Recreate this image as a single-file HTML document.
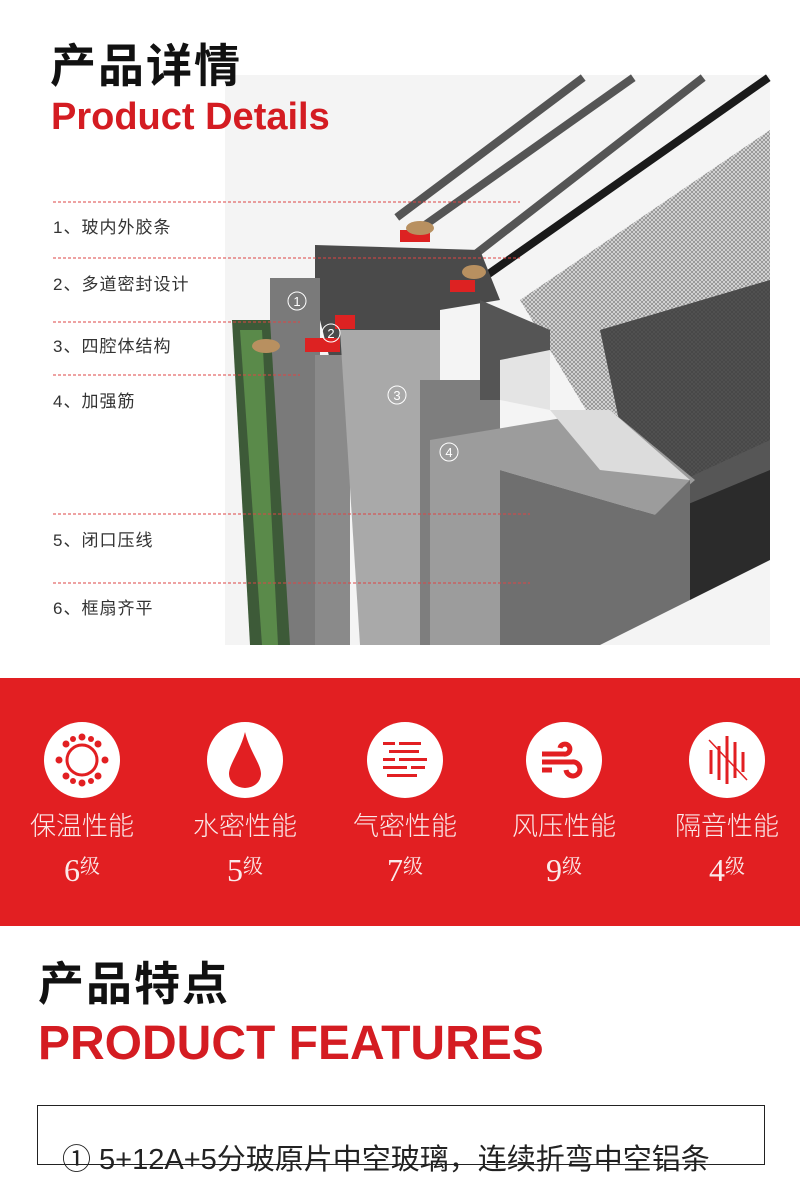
<!DOCTYPE html>
<html><head><meta charset="utf-8"><style>
*{margin:0;padding:0;box-sizing:border-box}
body{width:800px;height:1155px;background:#fff;position:relative;overflow:hidden;font-family:"Liberation Sans","Noto Sans CJK SC",sans-serif}
.a{position:absolute;white-space:nowrap}
.lab{position:absolute;left:53px;font-size:17px;color:#333;letter-spacing:1px}
.ic{position:absolute;top:722px;width:76px;height:76px;border-radius:50%;background:#fff}
.t{position:absolute;top:806px;width:140px;text-align:center;color:#fbeaea;font-size:26px;font-weight:300}
.g{position:absolute;top:850px;width:140px;text-align:center;color:#fbeaea;font-family:"Liberation Serif","Noto Serif CJK SC",serif;font-size:32px}
.g small{font-size:20px;vertical-align:8px}
</style></head><body>

<svg class="a" style="left:0;top:0" width="800" height="660">
<defs><pattern id="m" width="4" height="4" patternUnits="userSpaceOnUse"><rect width="4" height="4" fill="#d8d8d8"/><path d="M0 0L4 4M4 0L0 4" stroke="#777" stroke-width=".6"/></pattern></defs>
<rect x="225" y="75" width="545" height="570" fill="#f4f4f4"/>
<polygon points="520,300 770,130 770,440 640,500" fill="url(#m)"/>
<polygon points="600,330 770,280 770,560 640,520" fill="#3a3a3a" opacity=".85"/>
<polygon points="650,520 770,470 770,560 690,600" fill="#2b2b2b"/>
<g stroke-width="8" stroke-linecap="square">
<line x1="400" y1="215" x2="580" y2="80" stroke="#555"/>
<line x1="425" y1="225" x2="630" y2="80" stroke="#555"/>
<line x1="455" y1="270" x2="700" y2="80" stroke="#555"/>
<line x1="480" y1="280" x2="765" y2="80" stroke="#1a1a1a"/>
</g>
<polygon points="315,245 480,250 500,300 440,310 440,400 340,400 315,300" fill="#4a4a4a"/>
<polygon points="270,278 320,278 320,645 270,645" fill="#7a7a7a"/>
<polygon points="232,320 270,320 290,645 250,645" fill="#3d5a38"/>
<polygon points="240,330 262,330 278,645 262,645" fill="#5a8a4a"/>
<polygon points="315,355 350,355 350,645 315,645" fill="#8a8a8a"/>
<polygon points="340,330 440,330 440,645 360,645" fill="#a9a9a9"/>
<polygon points="420,380 500,380 500,645 420,645" fill="#7e7e7e"/>
<polygon points="480,300 550,330 550,400 480,400" fill="#555"/>
<polygon points="430,440 610,410 695,480 655,515 500,470 500,645 430,645" fill="#9c9c9c"/>
<polygon points="500,470 655,515 690,480 690,600 600,645 500,645" fill="#6f6f6f"/>
<polygon points="500,360 550,350 550,410 500,400" fill="#e4e4e4"/>
<polygon points="550,410 610,410 690,480 600,470" fill="#dcdcdc"/>
<rect x="400" y="230" width="30" height="12" fill="#d22"/><rect x="450" y="280" width="25" height="12" fill="#d22"/>
<rect x="305" y="338" width="35" height="14" fill="#d22"/><rect x="335" y="315" width="20" height="14" fill="#d22"/>
<ellipse cx="420" cy="228" rx="14" ry="7" fill="#b89060"/><ellipse cx="474" cy="272" rx="12" ry="7" fill="#b89060"/>
<ellipse cx="266" cy="346" rx="14" ry="7" fill="#b89060"/>
<g fill="none" stroke="#fff" stroke-width="1"><circle cx="297" cy="301" r="9"/><circle cx="331" cy="333" r="9"/><circle cx="397" cy="395" r="9"/><circle cx="449" cy="452" r="9"/></g>
<g fill="#fff" font-size="13" text-anchor="middle"><text x="297" y="306">1</text><text x="331" y="338">2</text><text x="397" y="400">3</text><text x="449" y="457">4</text></g>
<g stroke="#d44" stroke-dasharray="3,2" fill="none"><line x1="53" y1="202" x2="520" y2="202"/><line x1="53" y1="258" x2="520" y2="258"/><line x1="53" y1="322" x2="300" y2="322"/><line x1="53" y1="375" x2="300" y2="375"/><line x1="53" y1="514" x2="530" y2="514"/><line x1="53" y1="583" x2="530" y2="583"/></g>
</svg>
<div class="a" style="left:50px;top:30px;font-size:46px;font-weight:bold;color:#111;letter-spacing:2px">产品详情</div>
<div class="a" style="left:51px;top:96px;font-size:38px;font-weight:bold;color:#d41c22">Product Details</div>
<div class="lab" style="top:213px">1、玻内外胶条</div>
<div class="lab" style="top:270px">2、多道密封设计</div>
<div class="lab" style="top:332px">3、四腔体结构</div>
<div class="lab" style="top:387px">4、加强筋</div>
<div class="lab" style="top:526px">5、闭口压线</div>
<div class="lab" style="top:594px">6、框扇齐平</div>

<div class="a" style="left:0;top:678px;width:800px;height:248px;background:#e21f22"></div>
<div class="ic" style="left:44px"><svg width="76" height="76"><circle cx="38" cy="38" r="15" fill="none" stroke="#e21f22" stroke-width="3"/><g fill="#e21f22"><circle cx="38" cy="15" r="3.5"/><circle cx="38" cy="61" r="3.5"/><circle cx="15" cy="38" r="3.5"/><circle cx="61" cy="38" r="3.5"/><circle cx="22" cy="22" r="3.5"/><circle cx="54" cy="22" r="3.5"/><circle cx="22" cy="54" r="3.5"/><circle cx="54" cy="54" r="3.5"/><circle cx="29" cy="17" r="3"/><circle cx="47" cy="17" r="3"/><circle cx="29" cy="59" r="3"/><circle cx="47" cy="59" r="3"/></g></svg></div>
<div class="ic" style="left:207px"><svg width="76" height="76"><path d="M38 10 C33 30 22 42 22 52 a16 14 0 0 0 32 0 C54 42 43 30 38 10Z" fill="#e21f22"/></svg></div>
<div class="ic" style="left:367px"><svg width="76" height="76"><g fill="#e21f22"><rect x="16" y="20" width="12" height="3"/><rect x="32" y="20" width="22" height="3"/><rect x="22" y="28" width="30" height="3"/><rect x="16" y="36" width="12" height="3"/><rect x="32" y="36" width="28" height="3"/><rect x="16" y="44" width="24" height="3"/><rect x="44" y="44" width="14" height="3"/><rect x="20" y="52" width="30" height="3"/></g></svg></div>
<div class="ic" style="left:526px"><svg width="76" height="76"><path d="M16 32h22a5 5 0 1 0-4-6M16 40h30a7 7 0 1 1-6 8M16 48h10" fill="none" stroke="#e21f22" stroke-width="5"/></svg></div>
<div class="ic" style="left:689px"><svg width="76" height="76"><g stroke="#e21f22" stroke-width="3"><line x1="22" y1="28" x2="22" y2="52"/><line x1="30" y1="24" x2="30" y2="58"/><line x1="38" y1="14" x2="38" y2="62"/><line x1="46" y1="20" x2="46" y2="56"/><line x1="54" y1="30" x2="54" y2="50"/><line x1="20" y1="18" x2="58" y2="58" stroke-width="1.5"/></g></svg></div>
<div class="t" style="left:12px">保温性能</div><div class="t" style="left:175px">水密性能</div><div class="t" style="left:335px">气密性能</div><div class="t" style="left:494px">风压性能</div><div class="t" style="left:657px">隔音性能</div>
<div class="g" style="left:12px">6<small>级</small></div><div class="g" style="left:175px">5<small>级</small></div><div class="g" style="left:335px">7<small>级</small></div><div class="g" style="left:494px">9<small>级</small></div><div class="g" style="left:657px">4<small>级</small></div>

<div class="a" style="left:38px;top:948px;font-size:46px;font-weight:bold;color:#111;letter-spacing:2px">产品特点</div>
<div class="a" style="left:38px;top:1016px;font-size:48px;font-weight:bold;color:#d41c22">PRODUCT FEATURES</div>
<div class="a" style="left:37px;top:1105px;width:728px;height:60px;border:1px solid #222"></div>
<div class="a" style="left:62px;top:1136px;font-size:29px;color:#222">① 5+12A+5分玻原片中空玻璃，连续折弯中空铝条</div>
</body></html>
